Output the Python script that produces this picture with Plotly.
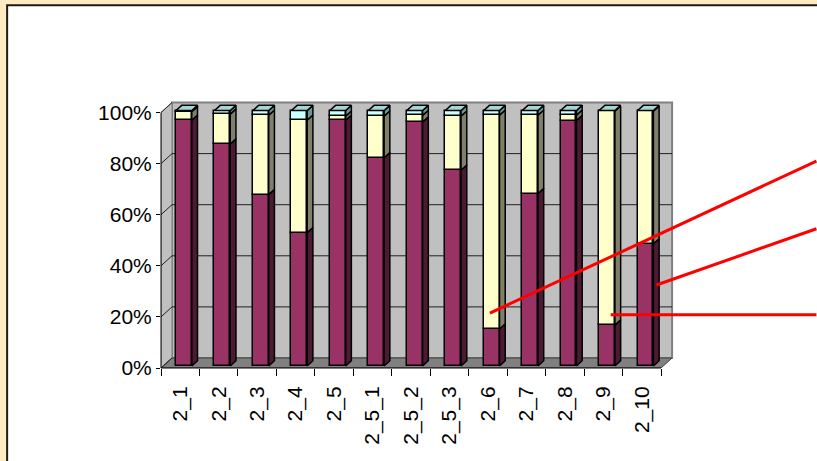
import plotly.graph_objects as go

# ---- data (shares in percent of each category) ----
categories = ["2_1", "2_2", "2_3", "2_4", "2_5", "2_5_1", "2_5_2",
              "2_5_3", "2_6", "2_7", "2_8", "2_9", "2_10"]
share_maroon = [96.2, 86.9, 67.1, 52.2, 96.2, 81.5, 95.5, 76.6, 14.5, 67.5, 96.1, 16.0, 47.8]
share_yellow = [3.3, 11.7, 31.1, 44.0, 1.6, 16.3, 2.6, 21.2, 83.7, 30.7, 2.1, 83.7, 51.9]
share_cyan = [0.5, 1.4, 1.8, 3.8, 2.2, 2.2, 1.9, 2.2, 1.8, 1.8, 1.8, 0.3, 0.3]
y_ticks = [0, 20, 40, 60, 80, 100]
y_tick_labels = ["0%", "20%", "40%", "60%", "80%", "100%"]

# leader lines: category they point at, level on that bar, level where they leave the frame
callout_targets = ["2_6", "2_10", "2_9"]
callout_from = [21.5, 32.5, 20.8]
callout_to = [81.0, 54.5, 20.8]

# ---- geometry of the 3-D box ----
FIG_W, FIG_H = 817, 461
N = len(categories)
DEPTH_X = 0.286          # depth of the box, in category units
DEPTH_Y = 3.92           # depth of the box, in percent units
PAD_X, PAD_Y = 0.05, 0.6
XR = N + DEPTH_X + PAD_X
YR = 100 + DEPTH_Y + PAD_Y
PX_PER_X = 38.5
PX_PER_Y = 2.55
M_L, M_T = 161, 368 - YR * PX_PER_Y
PLOT_W = XR * PX_PER_X
PLOT_H = YR * PX_PER_Y
M_R = FIG_W - M_L - PLOT_W
M_B = FIG_H - M_T - PLOT_H

BAR_LEFT = 0.333         # gap before the bar inside its category
BAR_W = 0.41
BAR_D0, BAR_D1 = 0.2, 0.72   # bar depth span as a fraction of the box depth

FONT = "Liberation Sans, Arial, sans-serif"
FONT_SIZE = 21
front_colors = ["#993366", "#FFFFCC", "#CCFFFF"]
side_colors = ["#4D1A33", "#80806A", "#669999"]
top_colors = ["#B8577F", "#D9D9A8", "#A3D6D6"]
series = [share_maroon, share_yellow, share_cyan]
EDGE_W = 1.5

fig = go.Figure()

x_off = BAR_D0 * DEPTH_X
y_off = BAR_D0 * DEPTH_Y
ddx = (BAR_D1 - BAR_D0) * DEPTH_X
ddy = (BAR_D1 - BAR_D0) * DEPTH_Y

cum = [0.0] * N
top_of = [None] * N
for s, vals in enumerate(series):
    left = [i + BAR_LEFT + x_off for i in range(N)]
    fig.add_trace(go.Bar(
        x=[l + BAR_W / 2 for l in left], y=vals,
        base=[y_off + c for c in cum], width=BAR_W,
        marker=dict(color=front_colors[s], line=dict(color="black", width=EDGE_W)),
        showlegend=False, hoverinfo="skip"))
    sx, sy = [], []
    for i in range(N):
        if vals[i] <= 0:
            continue
        xr = left[i] + BAR_W
        yb = y_off + cum[i]
        yt = yb + vals[i]
        sx += [xr, xr + ddx, xr + ddx, xr, xr, None]
        sy += [yb, yb + ddy, yt + ddy, yt, yb, None]
        top_of[i] = s
    fig.add_trace(go.Scatter(
        x=sx, y=sy, mode="lines", fill="toself", fillcolor=side_colors[s],
        line=dict(color="black", width=EDGE_W), hoverinfo="skip", showlegend=False))
    cum = [c + v for c, v in zip(cum, vals)]

# top faces, coloured after the uppermost segment of each bar
for s in range(len(series)):
    tx, ty = [], []
    for i in range(N):
        if top_of[i] != s:
            continue
        xl = i + BAR_LEFT + x_off
        xr = xl + BAR_W
        yt = y_off + cum[i]
        tx += [xl, xr, xr + ddx, xl + ddx, xl, None]
        ty += [yt, yt, yt + ddy, yt + ddy, yt, None]
    if tx:
        fig.add_trace(go.Scatter(
            x=tx, y=ty, mode="lines", fill="toself", fillcolor=top_colors[s],
            line=dict(color="black", width=EDGE_W), hoverinfo="skip", showlegend=False))


shapes = []
# white panel with a dark frame
shapes.append(dict(type="rect", xref="paper", yref="paper", layer="below",
                   x0=(7 - M_L) / PLOT_W, x1=(FIG_W + 20 - M_L) / PLOT_W,
                   y0=-(M_B + 20) / PLOT_H, y1=(FIG_H - 6 - M_B) / PLOT_H,
                   fillcolor="white", line=dict(color="#1E1A16", width=2)))
# walls and floor
shapes.append(dict(type="path", xref="x", yref="y", layer="below",
                   path=f"M {DEPTH_X},{DEPTH_Y} L {N + DEPTH_X},{DEPTH_Y} "
                        f"L {N + DEPTH_X},{100 + DEPTH_Y} L {DEPTH_X},{100 + DEPTH_Y} Z",
                   fillcolor="#C0C0C0", line=dict(color="#808080", width=2)))
shapes.append(dict(type="path", xref="x", yref="y", layer="below",
                   path=f"M 0,0 L {DEPTH_X},{DEPTH_Y} L {DEPTH_X},{100 + DEPTH_Y} L 0,100 Z",
                   fillcolor="#C0C0C0", line=dict(color="#808080", width=1)))
shapes.append(dict(type="path", xref="x", yref="y", layer="below",
                   path=f"M 0,0 L {N},0 L {N + DEPTH_X},{DEPTH_Y} L {DEPTH_X},{DEPTH_Y} Z",
                   fillcolor="#808080", line=dict(color="#404040", width=1)))
# grid on back wall and side wall
for v in y_ticks:
    if 0 < v < 100:
        shapes.append(dict(type="line", xref="x", yref="y", layer="below",
                           x0=DEPTH_X, x1=N + DEPTH_X, y0=v + DEPTH_Y, y1=v + DEPTH_Y,
                           line=dict(color="#202020", width=1)))
    shapes.append(dict(type="line", xref="x", yref="y", layer="below",
                       x0=0, x1=DEPTH_X, y0=v, y1=v + DEPTH_Y,
                       line=dict(color="#202020", width=1)))
# front value axis and front floor edge
shapes.append(dict(type="line", xref="paper", yref="y", x0=0, x1=0, y0=0, y1=100,
                   line=dict(color="black", width=1)))
shapes.append(dict(type="line", xref="x", yref="paper", x0=0, x1=N, y0=0, y1=0,
                   line=dict(color="black", width=1)))

# red leader lines running off to the right edge
right_edge = 1 + M_R / PLOT_W
lead_dx = [0.16, 0.49, 0.30]
for name, y_from, y_to, dx in zip(callout_targets, callout_from, callout_to, lead_dx):
    i = categories.index(name)
    x_from = i + BAR_LEFT + x_off + dx
    shapes.append(dict(type="line", xref="paper", yref="paper", layer="above",
                       x0=x_from / XR, y0=y_from / YR, x1=right_edge, y1=y_to / YR,
                       line=dict(color="#FF0000", width=3)))

fig.update_layout(
    width=FIG_W, height=FIG_H, autosize=False, template="none",
    margin=dict(l=M_L, r=M_R, t=M_T, b=M_B, pad=0),
    paper_bgcolor="#FFEAC4", plot_bgcolor="rgba(0,0,0,0)",
    barmode="overlay", bargap=0, showlegend=False,
    font=dict(family=FONT, size=FONT_SIZE, color="black"),
    shapes=shapes,
    xaxis=dict(range=[0, XR], tickmode="array",
               tickvals=[i + 0.5 for i in range(N)], ticktext=categories,
               tickangle=-90, ticks="outside", ticklen=9, tickcolor="rgba(0,0,0,0)",
               minor=dict(tickmode="array", tickvals=list(range(N + 1)),
                          ticks="outside", ticklen=7, tickcolor="black", tickwidth=1,
                          showgrid=False),
               showgrid=False, zeroline=False, showline=False, automargin=False,
               tickfont=dict(family=FONT, size=FONT_SIZE), fixedrange=True),
    yaxis=dict(range=[0, YR], tickmode="array", tickvals=y_ticks,
               ticktext=y_tick_labels, ticks="outside", ticklen=4,
               tickcolor="black", tickwidth=1, showgrid=False, zeroline=False,
               showline=False, automargin=False,
               tickfont=dict(family=FONT, size=FONT_SIZE), fixedrange=True),
)

fig.write_html("out.html")
